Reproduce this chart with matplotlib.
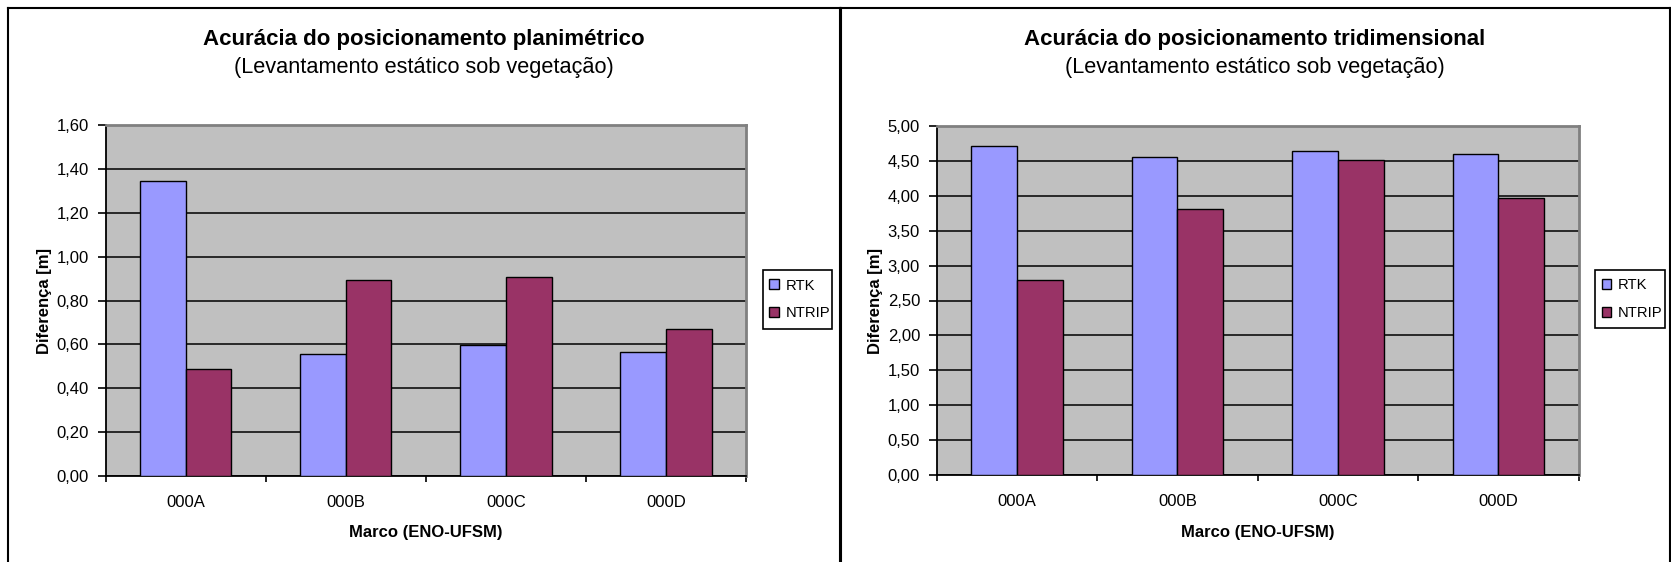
import matplotlib
matplotlib.use("Agg")
import matplotlib.pyplot as plt
from matplotlib.ticker import FuncFormatter, FixedLocator
from matplotlib.lines import Line2D
from matplotlib.patches import Rectangle
import numpy as np

plt.rcParams['font.family'] = ['Liberation Sans', 'DejaVu Sans']

marcos = ["000A", "000B", "000C", "000D"]
series = ["RTK", "NTRIP"]

plan_rtk = [1.346, 0.557, 0.598, 0.565]
plan_ntrip = [0.486, 0.896, 0.909, 0.671]

tri_rtk = [4.71, 4.56, 4.645, 4.60]
tri_ntrip = [2.80, 3.81, 4.51, 3.97]

titulos = ["Acurácia do posicionamento planimétrico",
           "Acurácia do posicionamento tridimensional"]
subtitulo = "(Levantamento estático sob vegetação)"
rotulo_x = "Marco (ENO-UFSM)"
rotulo_y = "Diferença [m]"

cor_rtk = "#9999FF"
cor_ntrip = "#993366"
cor_fundo = "#C0C0C0"

W, H = 1671, 562


def fx(x):
    return x / W


def fy(y):
    return 1 - y / H


def virgula(v, pos):
    return ("%.2f" % v).replace(".", ",")


def borda(fig, x0, y0, x1, y1, lw=1.5):
    for xs, ys in [((x0, x1), (y0, y0)), ((x0, x0), (y0, y1)), ((x1, x1), (y0, y1))]:
        fig.add_artist(Line2D([fx(v) for v in xs], [fy(v) for v in ys],
                              color="black", lw=lw, transform=fig.transFigure))


def painel(fig, caixa, leg, centro, titulo, rtk, ntrip, ymax, passo):
    l, t, r, b = caixa
    ax = fig.add_axes([fx(l), fy(b), fx(r - l), (b - t) / H])
    ax.set_facecolor(cor_fundo)
    x = np.arange(len(marcos))
    w = 0.2857
    ax.bar(x - w / 2, rtk, w, color=cor_rtk, edgecolor="black", lw=1, label=series[0], zorder=3)
    ax.bar(x + w / 2, ntrip, w, color=cor_ntrip, edgecolor="black", lw=1, label=series[1], zorder=3)
    ax.set_xlim(-0.5, len(marcos) - 0.5)
    ax.set_ylim(0, ymax)
    ax.yaxis.set_major_locator(FixedLocator(np.arange(0, ymax + passo / 2, passo)))
    ax.yaxis.set_major_formatter(FuncFormatter(virgula))
    ax.yaxis.grid(True, color="black", lw=1.1, zorder=1)
    ax.set_axisbelow(True)
    ax.set_xticks(x)
    ax.set_xticklabels(marcos)
    ax.set_xticks(np.arange(-0.5, len(marcos)), minor=True)
    ax.tick_params(axis="x", which="major", length=0, pad=14, labelsize=12)
    ax.tick_params(axis="x", which="minor", length=4.5, width=1.2, direction="out")
    ax.tick_params(axis="y", length=6, width=1.2, direction="out", pad=6, labelsize=12)
    for s in ["left", "bottom"]:
        ax.spines[s].set_color("black")
        ax.spines[s].set_linewidth(1.3)
    for s in ["top", "right"]:
        ax.spines[s].set_color("#808080")
        ax.spines[s].set_linewidth(2)
    ax.set_xlabel(rotulo_x, fontsize=12, fontweight="bold", va="center")
    ax.xaxis.set_label_coords(0.5, -(532 - b) / (b - t))
    ax.set_ylabel(rotulo_y, fontsize=12, fontweight="bold", va="center")
    ax.yaxis.set_label_coords((44 - 105.5) / (r - l), 0.5)

    # legenda: caixa desenhada a parte, itens sem moldura
    lx0, ly0, lx1, ly1 = leg
    fig.add_artist(Rectangle((fx(lx0), fy(ly1)), fx(lx1 - lx0), (ly1 - ly0) / H,
                             transform=fig.transFigure, facecolor="white",
                             edgecolor="black", lw=1.2, zorder=5))
    lg = ax.legend(loc="upper left", bbox_to_anchor=(fx(lx0 + 6.6), fy(ly0 + 8.5)),
                   bbox_transform=fig.transFigure, fontsize=10.6, frameon=False,
                   borderpad=0, labelspacing=0.95, handlelength=0.66, handleheight=0.66,
                   handletextpad=0.45, borderaxespad=0)
    lg.set_zorder(6)
    fig.add_artist(lg)
    fig.text(fx(centro), fy(45), titulo, ha="center", va="baseline", fontsize=16, fontweight="bold")
    fig.text(fx(centro), fy(73.3), subtitulo, ha="center", va="baseline", fontsize=15.7)
    return ax


def main():
    fig = plt.figure(figsize=(W / 100, H / 100), dpi=100)
    borda(fig, 7.5, 7.5, 839.5, H + 2)
    borda(fig, 840.5, 7.5, 1670, H + 2)
    painel(fig, (105.5, 125.5, 746, 475.6), (762.7, 270, 832.3, 328.7), 424,
           titulos[0], plan_rtk, plan_ntrip, 1.6, 0.2)
    painel(fig, (936.7, 126, 1578.7, 475), (1595, 269.5, 1664.5, 328.2), 1255,
           titulos[1], tri_rtk, tri_ntrip, 5.0, 0.5)
    fig.savefig("out.png", dpi=100)


if __name__ == "__main__":
    main()
